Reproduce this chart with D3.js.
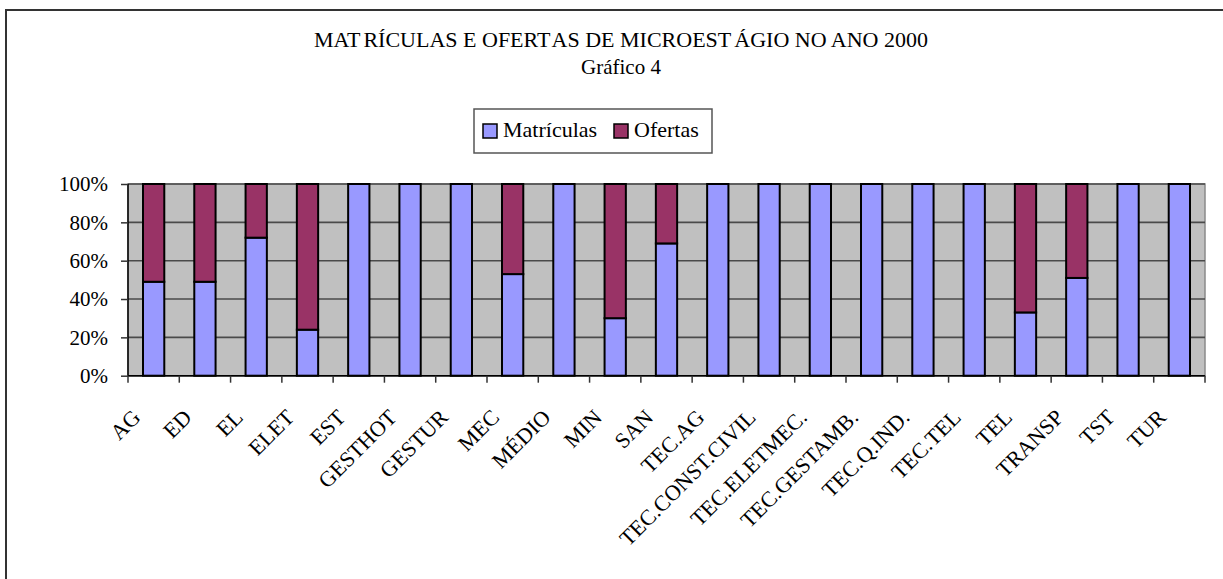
<!DOCTYPE html>
<html><head><meta charset="utf-8">
<script src="https://cdn.jsdelivr.net/npm/d3@7"></script>
<style>body{margin:0;background:#fff}svg{display:block}text{font-family:"Liberation Serif","Times New Roman",serif;fill:#000}</style>
</head><body>
<svg id="c" width="1223" height="579"></svg>
<script>
const categories = ["AG","ED","EL","ELET","EST","GESTHOT","GESTUR","MEC","MÉDIO","MIN","SAN","TEC.AG","TEC.CONST.CIVIL","TEC.ELETMEC.","TEC.GESTAMB.","TEC.Q.IND.","TEC.TEL","TEL","TRANSP","TST","TUR"];
const matriculas = [49,49,72,24,100,100,100,53,100,30,69,100,100,100,100,100,100,33,51,100,100];
const ofertas    = [51,51,28,76,0,0,0,47,0,70,31,0,0,0,0,0,0,67,49,0,0];
const seriesNames = ["Matrículas","Ofertas"];
const seriesColors = ["#9999FF","#993366"];
const yTicks = [0,0.2,0.4,0.6,0.8,1.0];
const titleParts = ["MAT","RÍCULAS E OFERT","AS DE MICROEST","ÁGIO NO ANO 2000"];
const subtitleText = "Gráfico 4";

const svg = d3.select("#c");
svg.append("rect").attr("x",6).attr("y",10).attr("width",1240).attr("height",600)
  .attr("fill","none").attr("stroke","#333").attr("stroke-width",2);

const x0=128, x1=1205, y0=184, y1=375.7;
const x = d3.scaleBand().domain(categories).range([x0,x1]).paddingInner(0.585).paddingOuter(0.2925);
const y = d3.scaleLinear().domain([0,1]).range([y1,y0]);

const table = categories.map((c,i)=>({cat:c,"Matrículas":matriculas[i],"Ofertas":ofertas[i]}));
const stacked = d3.stack().keys(seriesNames).offset(d3.stackOffsetExpand)(table);

svg.append("rect").attr("x",x0).attr("y",y0).attr("width",x1-x0).attr("height",y1-y0)
  .attr("fill","#C0C0C0").attr("stroke","#8a8a8a").attr("stroke-width",1.5);

svg.append("g").selectAll("line").data(yTicks).join("line")
  .attr("x1",x0).attr("x2",x1).attr("y1",d=>y(d)).attr("y2",d=>y(d))
  .attr("stroke","#4a4a4a").attr("stroke-width",1.6);

svg.append("g").selectAll("g").data(stacked).join("g")
  .attr("fill",(d,i)=>seriesColors[i])
  .selectAll("rect").data(d=>d.filter(p=>p[1]-p[0]>0)).join("rect")
  .attr("x",d=>x(d.data.cat)).attr("width",x.bandwidth())
  .attr("y",d=>y(d[1])).attr("height",d=>y(d[0])-y(d[1]))
  .attr("stroke","#000").attr("stroke-width",2);

const ya = d3.axisLeft(y).tickValues(yTicks).tickFormat(d3.format(".0%")).tickSize(7).tickPadding(13);
const gy = svg.append("g").attr("transform",`translate(${x0},0)`).call(ya);
gy.select(".domain").attr("stroke","#000").attr("stroke-width",1.5).attr("d",`M0,${y0}V${y1}`);
gy.selectAll(".tick line").attr("stroke","#333").attr("stroke-width",1.5);
gy.selectAll("text").style("font-family","'Liberation Serif',serif").style("font-size","21px").attr("fill","#000");

svg.append("line").attr("x1",x0).attr("x2",x1).attr("y1",y1).attr("y2",y1).attr("stroke","#000").attr("stroke-width",1.5);
const step = x.step();
const bounds = d3.range(categories.length+1).map(i=>x0+i*step);
svg.append("g").selectAll("line").data(bounds).join("line")
  .attr("x1",d=>d).attr("x2",d=>d).attr("y1",y1).attr("y2",y1+7)
  .attr("stroke","#333").attr("stroke-width",1.5);

svg.append("g").selectAll("text").data(categories).join("text")
  .attr("transform",d=>`translate(${x(d)+x.bandwidth()/2-12},${y1+43}) rotate(-45)`)
  .attr("text-anchor","end").style("font-size","22px").text(d=>d);

const t = svg.append("text").attr("x",621).attr("y",47).attr("text-anchor","middle").style("font-size","22px");
titleParts.forEach((p,i)=>t.append("tspan").attr("dx",i?3:0).text(p));
svg.append("text").attr("x",621).attr("y",74).attr("text-anchor","middle").style("font-size","21px").text(subtitleText);

const lg = svg.append("g");
lg.append("rect").attr("x",474).attr("y",109).attr("width",238).attr("height",44)
  .attr("fill","#fff").attr("stroke","#555").attr("stroke-width",1.5);
const legX = [483,614];
seriesNames.forEach((n,i)=>{
  lg.append("rect").attr("x",legX[i]).attr("y",124).attr("width",14).attr("height",14)
    .attr("fill",seriesColors[i]).attr("stroke","#000").attr("stroke-width",1.5);
  lg.append("text").attr("x",legX[i]+20).attr("y",137).style("font-size","22px").text(n);
});
</script>
</body></html>
